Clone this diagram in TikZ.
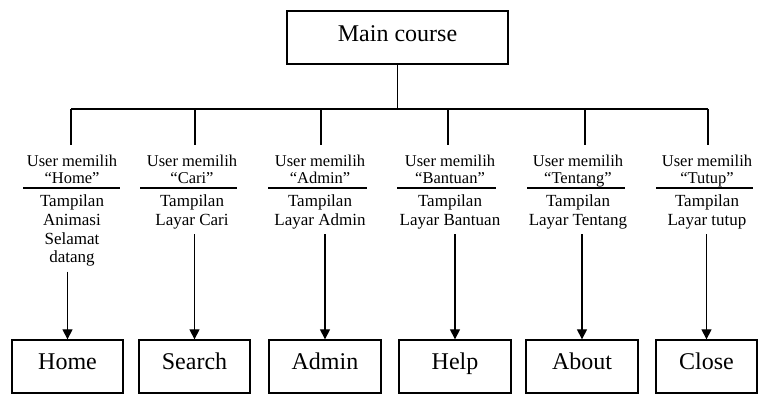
\documentclass[tikz,border=0pt]{standalone}
\usepackage{fontspec}
\setmainfont{Liberation Serif}
\usetikzlibrary{arrows.meta}
\begin{document}
\begin{tikzpicture}[x=1pt,y=1pt,
  line width=1.2pt,
  bigbox/.style={draw,line width=1.3pt,minimum height=53pt,inner sep=0pt,text height=12pt,text depth=7pt,font=\fontsize{24}{28}\selectfont},
  upper/.style={anchor=north,align=center,inner xsep=0pt,inner ysep=9.7pt,font=\fontsize{16.5}{17}\selectfont},
  lower/.style={anchor=north,align=center,inner xsep=0pt,inner ysep=4.5pt,font=\fontsize{17}{18.7}\selectfont},
  arr/.style={-{Triangle[length=10pt,width=10pt]}},
  sep/.style={line width=1.2pt}]
\useasboundingbox (0,0) rectangle (758,394);

\node[bigbox,minimum width=221pt,text height=14pt,text depth=5pt] (main) at (397.5,356.5) {Main course};

% junctions on the bar
\coordinate (j1) at (71,285);
\coordinate (j2) at (195,285);
\coordinate (j3) at (321,285);
\coordinate (j4) at (448,285);
\coordinate (j5) at (585,285);
\coordinate (j6) at (708,285);
\coordinate (jm) at (main.south |- j1);

\draw (main.south) -- (jm);
\draw (j1) -- (j6);

% upper texts
\node[upper] (u1) at (72,249) {User memilih\\``Home''};
\node[upper] (u2) at (192,249) {User memilih\\``Cari''};
\node[upper] (u3) at (320,249) {User memilih\\``Admin''};
\node[upper] (u4) at (450,249) {User memilih\\``Bantuan''};
\node[upper] (u5) at (578,249) {User memilih\\``Tentang''};
\node[upper] (u6) at (707,249) {User memilih\\``Tutup''};

\foreach \i in {1,...,6}{\draw (j\i) -- (j\i |- u\i.north);}

% separators
\draw[sep] (23,206) -- (120,206);
\draw[sep] (140,206) -- (237,206);
\draw[sep] (268,206) -- (367,206);
\draw[sep] (397,206) -- (496,206);
\draw[sep] (527,206) -- (625,206);
\draw[sep] (656,206) -- (753,206);

% lower texts
\node[lower] (t1) at (72,204.1) {Tampilan\\Animasi\\Selamat\\datang};
\node[lower] (t2) at (192,204.1) {Tampilan\\Layar Cari};
\node[lower] (t3) at (320,204.1) {Tampilan\\Layar Admin};
\node[lower] (t4) at (450,204.1) {Tampilan\\Layar Bantuan};
\node[lower] (t5) at (578,204.1) {Tampilan\\Layar Tentang};
\node[lower] (t6) at (707,204.1) {Tampilan\\Layar tutup};

% bottom boxes
\node[bigbox,minimum width=111pt] (b1) at (67.5,27.5) {Home};
\node[bigbox,minimum width=111pt] (b2) at (194.5,27.5) {Search};
\node[bigbox,minimum width=112pt] (b3) at (325,27.5) {Admin};
\node[bigbox,minimum width=112pt] (b4) at (455,27.5) {Help};
\node[bigbox,minimum width=112pt] (b5) at (582,27.5) {About};
\node[bigbox,minimum width=101pt] (b6) at (706.5,27.5) {Close};

\foreach \i in {1,...,6}{\draw[arr] (t\i.south -| b\i.north) -- (b\i.north);}
\end{tikzpicture}
\end{document}
